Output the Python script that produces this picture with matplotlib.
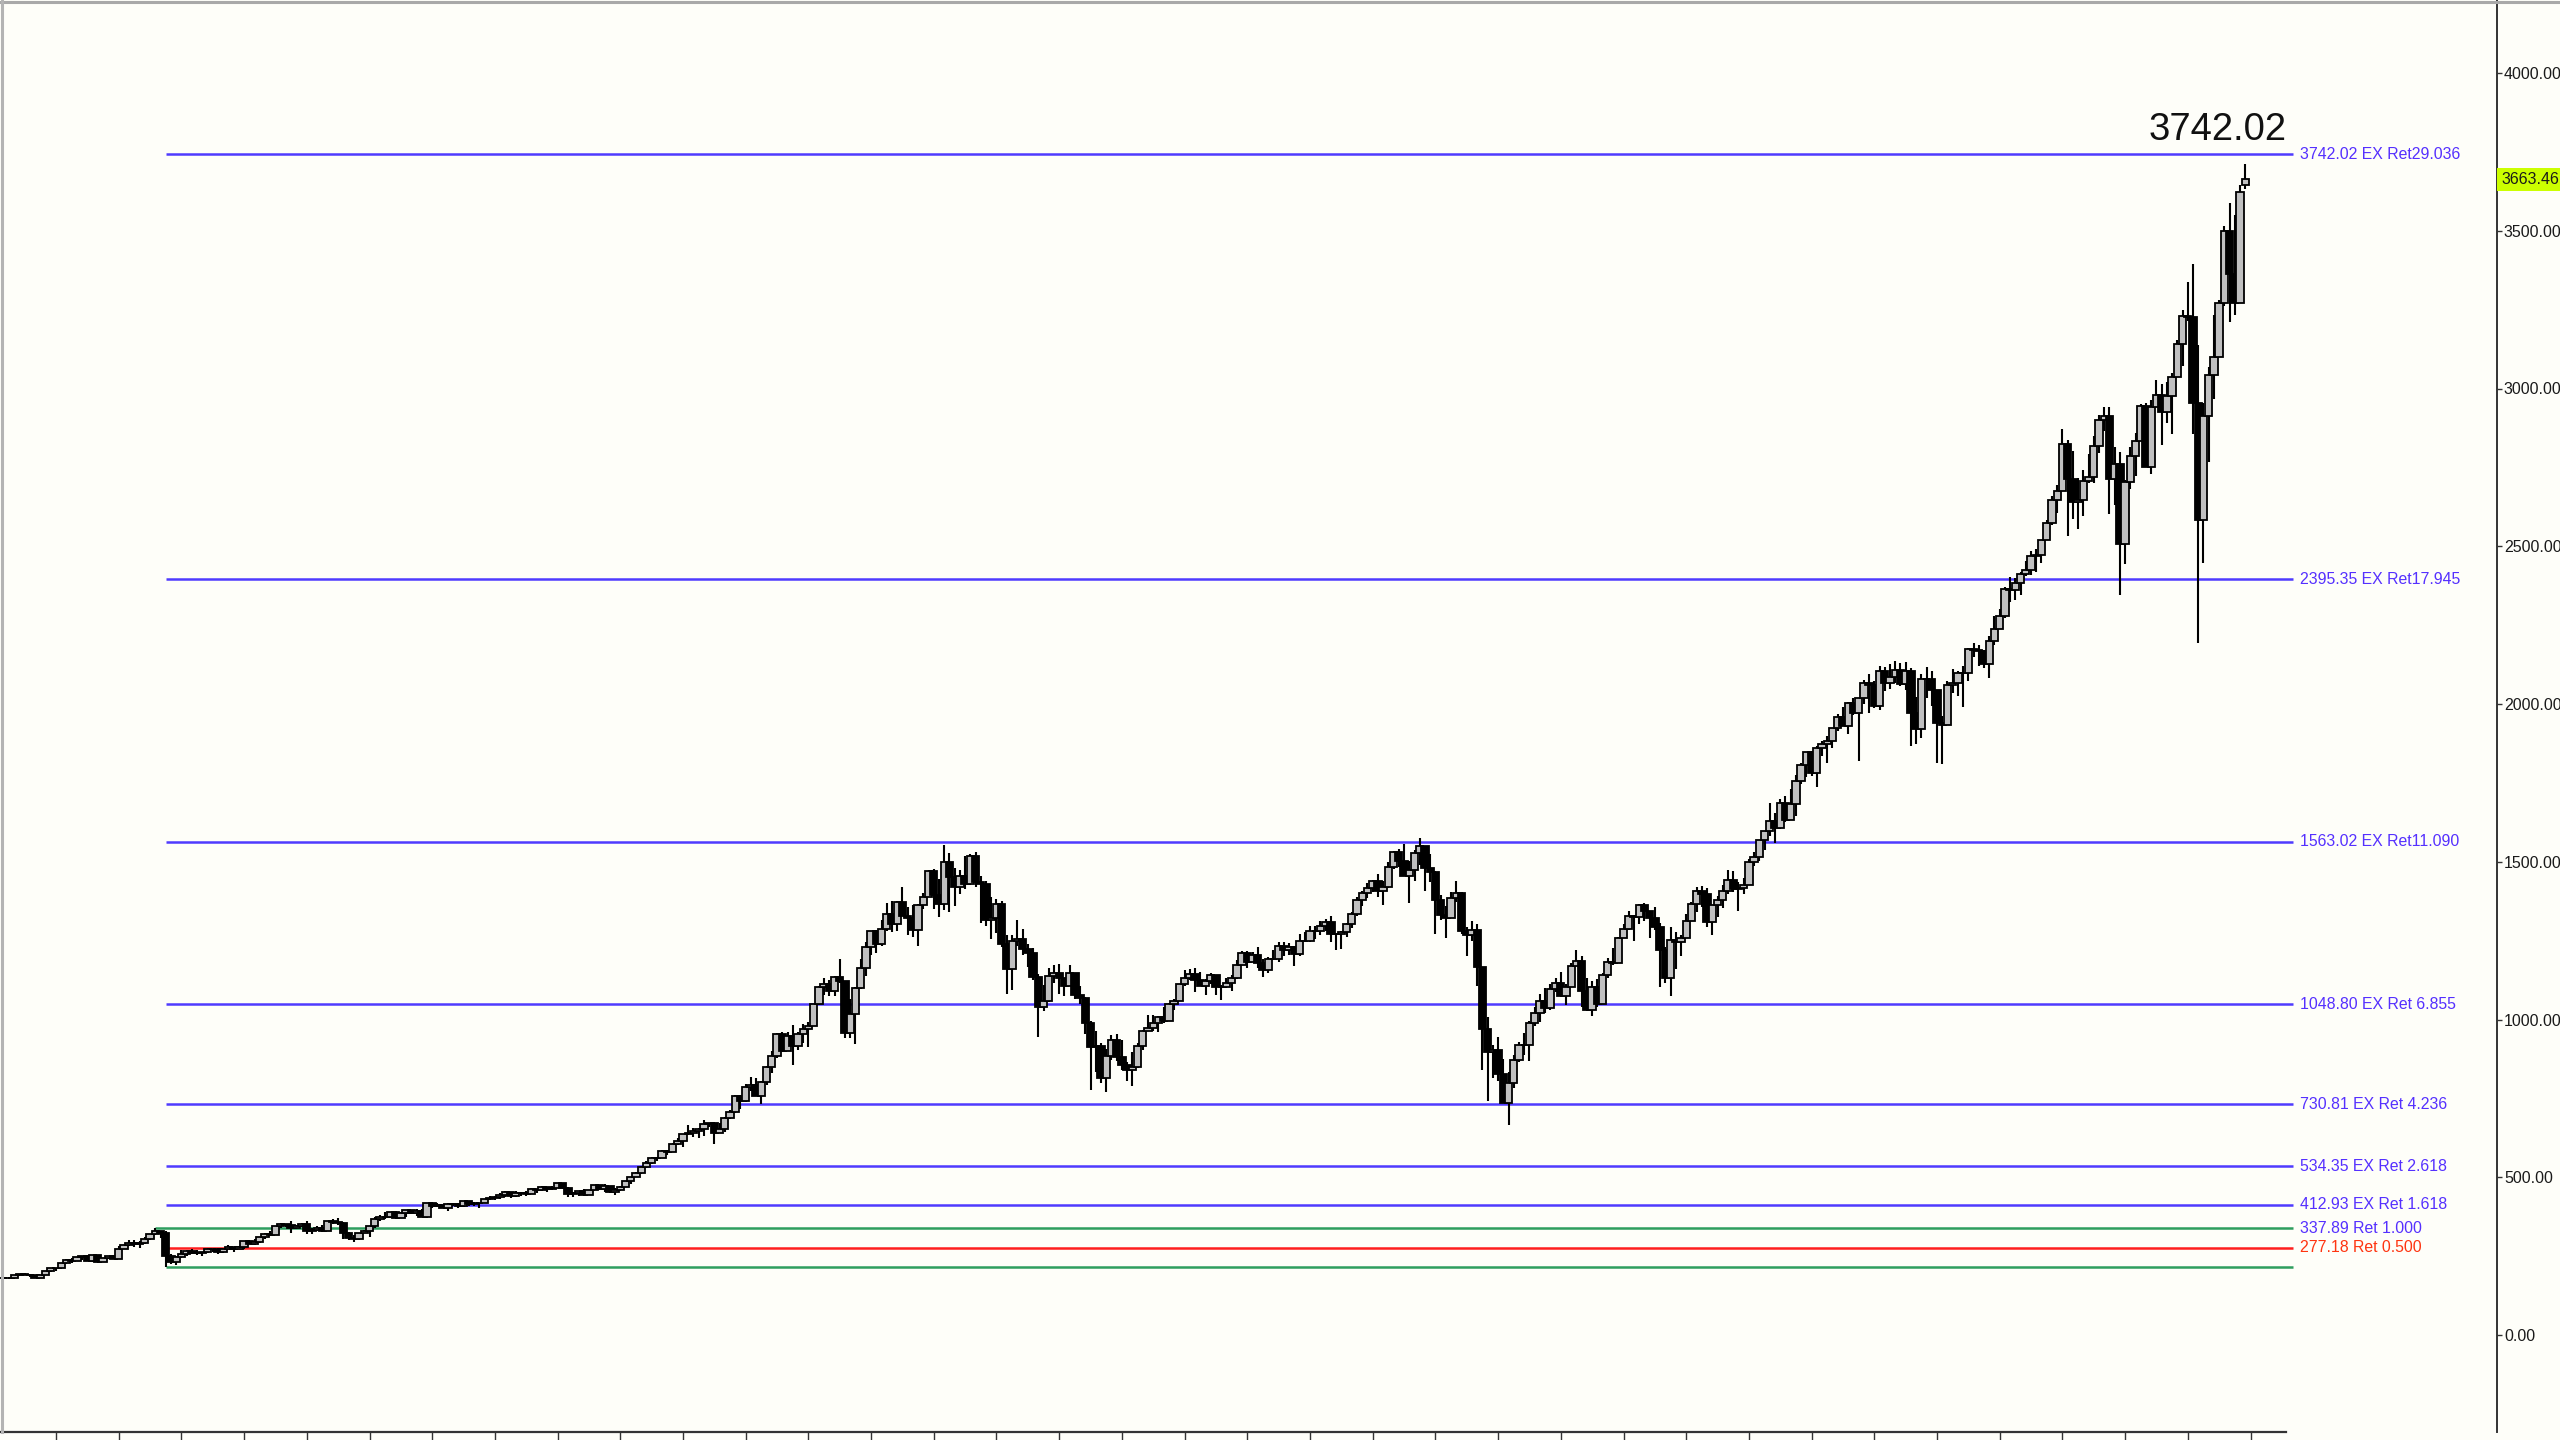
import matplotlib
matplotlib.use("Agg")
import matplotlib.pyplot as plt
from matplotlib.lines import Line2D
import numpy as np

# ---------------- DATA (S&P 500 monthly candles, Mar 1985 - Dec 2020) ----------------
first_open = 181.18
closes = [
    180.66, 179.83, 189.55, 191.85, 190.92, 188.63, 182.08, 189.82, 202.17, 211.28,  # 1985 Mar-Dec
    211.78, 226.92, 238.90, 235.52, 247.35, 250.84, 236.12, 252.93, 231.32, 243.98, 249.22, 242.17,
    274.08, 284.20, 291.70, 288.36, 290.10, 304.00, 318.66, 329.80, 321.83, 251.79, 230.30, 247.08,
    257.07, 267.82, 258.89, 261.33, 262.16, 273.50, 272.02, 261.52, 271.91, 278.97, 273.70, 277.72,
    297.47, 288.86, 294.87, 309.64, 320.52, 317.98, 346.08, 351.45, 349.15, 340.36, 345.99, 353.40,
    329.08, 331.89, 339.94, 330.80, 361.23, 358.02, 356.15, 322.56, 306.05, 304.00, 322.22, 330.22,
    343.93, 367.07, 375.22, 375.34, 389.83, 371.16, 387.81, 395.43, 387.86, 392.46, 375.22, 417.09,
    408.79, 412.70, 403.69, 414.95, 415.35, 408.14, 424.21, 414.03, 417.80, 418.68, 431.35, 435.71,
    438.78, 443.38, 451.67, 440.19, 450.19, 450.53, 448.13, 463.56, 458.93, 467.83, 461.79, 466.45,
    481.61, 467.14, 445.77, 450.91, 456.50, 444.27, 458.26, 475.49, 462.69, 472.35, 453.69, 459.27,
    470.42, 487.39, 500.71, 514.71, 533.40, 544.75, 562.06, 561.88, 584.41, 581.50, 605.37, 615.93,
    636.02, 640.43, 645.50, 654.17, 669.12, 670.63, 639.95, 651.99, 687.31, 705.27, 757.02, 740.74,
    786.16, 790.82, 757.12, 801.34, 848.28, 885.14, 954.29, 899.47, 947.28, 914.62, 955.40, 970.43,
    980.28, 1049.34, 1101.75, 1111.75, 1090.82, 1133.84, 1120.67, 957.28, 1017.01, 1098.67, 1163.63, 1229.23,
    1279.64, 1238.33, 1286.37, 1335.18, 1301.84, 1372.71, 1328.72, 1320.41, 1282.71, 1362.93, 1388.91, 1469.25,
    1394.46, 1366.42, 1498.58, 1452.43, 1420.60, 1454.60, 1430.83, 1517.68, 1436.51, 1429.40, 1314.95, 1320.28,
    1366.01, 1239.94, 1160.33, 1249.46, 1255.82, 1224.38, 1211.23, 1133.58, 1040.94, 1059.78, 1139.45, 1148.08,
    1130.20, 1106.73, 1147.39, 1076.92, 1067.14, 989.82, 911.62, 916.07, 815.28, 885.76, 936.31, 879.82,
    855.70, 841.15, 848.18, 916.92, 963.59, 974.50, 990.31, 1008.01, 995.97, 1050.71, 1058.20, 1111.92,
    1131.13, 1144.94, 1126.21, 1107.30, 1120.68, 1140.84, 1101.72, 1104.24, 1114.58, 1130.20, 1173.82, 1211.92,
    1181.27, 1203.60, 1180.59, 1156.85, 1191.50, 1191.33, 1234.18, 1220.33, 1228.81, 1207.01, 1249.48, 1248.29,
    1280.08, 1280.66, 1294.83, 1310.61, 1270.09, 1270.20, 1276.66, 1303.82, 1335.85, 1377.94, 1400.63, 1418.30,
    1438.24, 1406.82, 1420.86, 1482.37, 1530.62, 1503.35, 1455.27, 1473.99, 1526.75, 1549.38, 1481.14, 1468.36,
    1378.55, 1330.63, 1322.70, 1385.59, 1400.38, 1280.00, 1267.38, 1282.83, 1166.36, 968.75, 896.24, 903.25,
    825.88, 735.09, 797.87, 872.81, 919.14, 919.32, 987.48, 1020.62, 1057.08, 1036.19, 1095.63, 1115.10,
    1073.87, 1104.49, 1169.43, 1186.69, 1089.41, 1030.71, 1101.60, 1049.33, 1141.20, 1183.26, 1180.55, 1257.64,
    1286.12, 1327.22, 1325.83, 1363.61, 1345.20, 1320.64, 1292.28, 1218.89, 1131.42, 1253.30, 1246.96, 1257.60,
    1312.41, 1365.68, 1408.47, 1397.91, 1310.33, 1362.16, 1379.32, 1406.58, 1440.67, 1412.16, 1416.18, 1426.19,
    1498.11, 1514.68, 1569.19, 1597.57, 1630.74, 1606.28, 1685.73, 1632.97, 1681.55, 1756.54, 1805.81, 1848.36,
    1782.59, 1859.45, 1872.34, 1883.95, 1923.57, 1960.23, 1930.67, 2003.37, 1972.29, 2018.05, 2067.56, 2058.90,
    1994.99, 2104.50, 2067.89, 2085.51, 2107.39, 2063.11, 2103.84, 1972.18, 1920.03, 2079.36, 2080.41, 2043.94,
    1940.24, 1932.23, 2059.74, 2065.30, 2096.95, 2098.86, 2173.60, 2170.95, 2168.27, 2126.15, 2198.81, 2238.83,
    2278.87, 2363.64, 2362.72, 2384.20, 2411.80, 2423.41, 2470.30, 2471.65, 2519.36, 2575.26, 2647.58, 2673.61,
    2823.81, 2713.83, 2640.87, 2648.05, 2705.27, 2718.37, 2816.29, 2901.52, 2913.98, 2711.74, 2760.17, 2506.85,
    2704.10, 2784.49, 2834.40, 2945.83, 2752.06, 2941.76, 2980.38, 2926.46, 2976.74, 3037.56, 3140.98, 3230.78,
    3225.52, 2954.22, 2584.59, 2912.43, 3044.31, 3100.29, 3271.12, 3500.31, 3363.00, 3269.96, 3621.63, 3663.46,
]
highs = [
    183.89, 183.61, 189.98, 192.17, 197.45, 193.32, 189.04, 190.64, 203.69, 212.02,
    213.90, 227.94, 240.16, 244.79, 248.12, 251.79, 253.48, 254.38, 254.94, 244.05, 250.65, 254.87,
    280.96, 285.49, 301.95, 301.12, 296.60, 309.29, 320.29, 337.89, 330.50, 328.94, 255.75, 250.96,
    268.65, 268.47, 272.06, 270.14, 263.72, 275.57, 273.36, 274.34, 273.02, 284.93, 280.36, 283.06,
    298.67, 300.67, 302.99, 311.66, 323.18, 328.22, 347.02, 354.86, 352.89, 360.44, 347.07, 356.47,
    360.59, 337.74, 345.19, 347.30, 362.26, 368.95, 369.78, 357.63, 326.18, 315.83, 323.47, 331.75,
    345.87, 373.53, 380.09, 391.26, 390.74, 391.50, 390.50, 396.67, 396.15, 397.79, 399.14, 418.32,
    420.77, 417.05, 413.30, 418.55, 419.78, 417.95, 425.09, 425.00, 422.62, 419.02, 432.16, 441.28,
    442.00, 449.56, 456.86, 452.13, 455.63, 453.84, 456.33, 464.36, 463.62, 470.92, 469.49, 471.29,
    482.85, 482.23, 470.14, 453.11, 458.00, 462.95, 459.00, 476.71, 476.07, 478.16, 473.08, 465.29,
    472.23, 489.00, 502.24, 515.47, 536.19, 551.07, 563.84, 564.73, 586.86, 587.85, 608.75, 622.88,
    636.26, 664.23, 656.97, 656.43, 681.10, 673.31, 675.88, 670.68, 690.88, 714.10, 762.12, 761.75,
    794.67, 817.68, 814.90, 804.13, 851.87, 898.70, 957.73, 961.63, 960.46, 983.12, 960.16, 986.25,
    992.65, 1050.02, 1105.65, 1130.52, 1123.95, 1138.49, 1190.58, 1121.02, 1066.09, 1102.58, 1192.97, 1244.93,
    1280.41, 1283.37, 1316.19, 1368.17, 1375.98, 1375.22, 1420.33, 1357.99, 1361.69, 1364.78, 1400.04, 1473.10,
    1478.00, 1444.55, 1552.87, 1527.19, 1481.51, 1474.64, 1517.32, 1525.21, 1530.09, 1454.82, 1438.46, 1389.06,
    1383.37, 1376.38, 1267.42, 1269.30, 1315.93, 1286.62, 1239.78, 1226.27, 1143.63, 1110.61, 1163.38, 1173.60,
    1176.97, 1130.20, 1173.94, 1147.84, 1106.59, 1070.67, 994.46, 965.00, 924.02, 907.44, 951.57, 954.28,
    935.05, 864.64, 895.90, 924.24, 965.38, 1015.33, 1015.41, 1011.01, 1040.29, 1053.79, 1063.65, 1112.56,
    1155.38, 1158.98, 1163.23, 1150.57, 1127.74, 1146.34, 1140.84, 1108.96, 1131.54, 1142.05, 1188.46, 1217.33,
    1217.80, 1212.44, 1229.11, 1191.88, 1199.56, 1219.59, 1245.15, 1245.86, 1243.13, 1233.34, 1270.64, 1275.80,
    1294.90, 1297.57, 1310.88, 1318.16, 1326.70, 1274.93, 1280.42, 1306.74, 1340.28, 1389.45, 1407.89, 1431.81,
    1441.61, 1461.57, 1438.89, 1498.02, 1535.56, 1540.56, 1555.90, 1503.89, 1538.74, 1576.09, 1545.79, 1523.57,
    1471.77, 1396.02, 1359.68, 1404.57, 1440.24, 1404.05, 1292.17, 1313.15, 1303.04, 1167.03, 1007.51, 918.85,
    943.85, 875.01, 832.98, 888.70, 930.17, 956.23, 996.68, 1039.47, 1080.15, 1101.36, 1113.69, 1130.38,
    1150.45, 1112.42, 1180.16, 1219.80, 1200.26, 1131.23, 1120.95, 1129.24, 1148.90, 1196.14, 1227.08, 1262.60,
    1302.67, 1344.07, 1332.28, 1366.61, 1370.58, 1345.20, 1356.48, 1307.38, 1229.29, 1292.66, 1277.55, 1269.37,
    1333.47, 1371.94, 1419.15, 1422.38, 1415.32, 1363.46, 1391.74, 1426.68, 1474.51, 1470.96, 1434.27, 1448.00,
    1509.94, 1530.94, 1570.28, 1597.57, 1687.18, 1654.19, 1698.78, 1709.67, 1729.86, 1775.22, 1813.55, 1849.44,
    1850.84, 1867.92, 1883.97, 1897.28, 1924.03, 1968.17, 1991.39, 2005.04, 2019.26, 2018.19, 2075.76, 2093.55,
    2072.36, 2119.59, 2117.52, 2125.92, 2134.72, 2129.87, 2132.82, 2112.66, 2020.86, 2094.32, 2116.48, 2104.27,
    2038.20, 1962.96, 2072.21, 2111.05, 2103.48, 2120.55, 2177.09, 2193.81, 2187.87, 2169.60, 2214.10, 2277.53,
    2300.99, 2371.54, 2400.98, 2398.16, 2418.71, 2453.82, 2484.04, 2490.87, 2519.44, 2582.98, 2657.74, 2694.97,
    2872.87, 2835.96, 2801.90, 2717.49, 2742.10, 2791.47, 2848.03, 2916.50, 2940.91, 2939.86, 2815.15, 2800.18,
    2708.95, 2813.49, 2860.31, 2949.52, 2954.13, 2964.15, 3027.98, 3013.59, 3021.99, 3050.10, 3154.26, 3247.93,
    3337.77, 3393.52, 3136.72, 2954.86, 3068.67, 3233.13, 3279.99, 3514.77, 3588.11, 3549.85, 3645.99, 3712.39,
]
lows = [
    177.86, 178.21, 178.37, 185.79, 188.78, 184.06, 179.45, 181.23, 189.07, 200.46,
    201.87, 210.62, 224.34, 228.32, 233.51, 239.11, 233.68, 232.59, 228.74, 230.55, 239.36, 240.52,
    242.17, 273.38, 282.82, 278.16, 277.01, 288.94, 301.07, 316.99, 308.56, 216.46, 225.75, 221.24,
    243.08, 251.20, 256.13, 254.55, 250.05, 260.58, 262.33, 256.02, 258.36, 271.13, 263.88, 272.67,
    273.81, 287.01, 285.40, 291.95, 305.55, 314.40, 316.98, 338.65, 341.44, 323.97, 336.52, 342.00,
    318.71, 320.54, 329.58, 326.78, 329.12, 351.25, 350.04, 305.73, 300.00, 294.51, 301.85, 321.81,
    309.35, 340.17, 362.12, 368.57, 370.06, 366.45, 370.59, 374.09, 383.59, 377.80, 373.73, 371.36,
    403.59, 405.17, 400.96, 394.50, 408.80, 401.29, 404.25, 409.10, 408.43, 402.66, 417.42, 427.90,
    426.95, 429.71, 438.00, 433.54, 436.86, 441.93, 441.39, 447.00, 450.98, 456.83, 454.38, 460.87,
    464.55, 464.26, 436.16, 435.86, 441.22, 441.07, 443.20, 456.52, 460.34, 454.46, 449.05, 443.93,
    457.23, 468.16, 479.97, 499.61, 511.35, 530.37, 542.51, 552.41, 561.00, 571.63, 579.40, 602.00,
    597.29, 633.45, 627.63, 624.16, 630.07, 658.64, 605.88, 639.49, 643.97, 684.25, 703.77, 716.69,
    737.01, 773.43, 756.13, 733.54, 793.21, 829.75, 879.10, 897.66, 899.47, 855.27, 904.24, 924.92,
    912.83, 979.55, 1047.31, 1076.70, 1074.39, 1074.64, 1114.30, 939.98, 939.98, 923.32, 1096.26, 1136.89,
    1203.41, 1211.87, 1234.00, 1282.07, 1277.59, 1281.41, 1328.46, 1268.37, 1262.91, 1233.70, 1350.33, 1387.38,
    1350.14, 1325.07, 1346.62, 1339.40, 1361.09, 1398.11, 1413.89, 1425.43, 1419.44, 1305.79, 1294.90, 1254.07,
    1274.62, 1228.42, 1081.19, 1091.99, 1232.00, 1203.03, 1165.54, 1124.87, 944.75, 1026.76, 1054.31, 1114.53,
    1081.66, 1074.36, 1106.73, 1063.46, 1048.96, 952.92, 775.68, 833.44, 800.20, 768.63, 872.37, 869.45,
    840.34, 806.29, 788.90, 847.85, 902.83, 963.59, 962.10, 960.84, 990.36, 995.97, 1031.20, 1058.20,
    1105.08, 1124.44, 1087.16, 1107.23, 1076.32, 1113.32, 1078.78, 1060.72, 1101.29, 1090.19, 1127.60, 1173.76,
    1163.75, 1180.95, 1163.69, 1136.15, 1146.18, 1188.30, 1183.55, 1201.07, 1205.35, 1168.20, 1201.07, 1246.59,
    1245.74, 1253.61, 1268.42, 1280.74, 1245.34, 1219.29, 1224.54, 1261.30, 1290.93, 1327.10, 1360.98, 1385.93,
    1403.97, 1389.42, 1363.98, 1416.37, 1476.70, 1484.18, 1454.25, 1370.60, 1439.29, 1489.56, 1406.10, 1435.65,
    1270.05, 1316.75, 1256.98, 1324.35, 1373.07, 1272.00, 1200.44, 1247.45, 1106.42, 839.80, 741.02, 815.69,
    804.30, 734.52, 666.79, 783.32, 866.10, 888.86, 869.32, 978.51, 991.97, 1020.18, 1029.38, 1085.89,
    1071.59, 1044.50, 1105.24, 1170.69, 1040.78, 1028.33, 1010.91, 1039.70, 1048.18, 1131.87, 1173.00, 1186.60,
    1257.62, 1282.86, 1249.05, 1302.62, 1311.80, 1258.07, 1282.86, 1101.54, 1114.22, 1074.77, 1158.66, 1202.37,
    1258.86, 1310.91, 1340.03, 1357.38, 1291.98, 1266.74, 1325.41, 1354.65, 1396.56, 1403.28, 1343.35, 1398.11,
    1426.19, 1485.01, 1501.48, 1536.03, 1581.28, 1560.33, 1604.57, 1627.47, 1633.41, 1646.47, 1746.20, 1767.99,
    1770.45, 1737.92, 1834.44, 1814.36, 1859.79, 1915.98, 1930.67, 1904.78, 1964.04, 1820.66, 2001.01, 1972.56,
    1988.12, 1980.90, 2039.69, 2048.38, 2067.93, 2056.32, 2044.02, 1867.01, 1871.91, 1893.70, 2019.39, 1993.26,
    1812.29, 1810.10, 1937.09, 2033.80, 2025.91, 1991.68, 2074.02, 2147.58, 2119.12, 2114.72, 2083.79, 2187.44,
    2245.13, 2271.65, 2322.25, 2328.95, 2344.51, 2405.70, 2407.70, 2417.35, 2446.55, 2520.40, 2566.33, 2605.52,
    2682.36, 2532.69, 2585.89, 2553.80, 2594.62, 2698.95, 2698.95, 2796.34, 2864.12, 2603.54, 2631.09, 2346.58,
    2443.96, 2681.83, 2722.27, 2848.63, 2750.52, 2728.81, 2952.22, 2822.12, 2891.85, 2855.94, 3050.72, 3070.33,
    3214.64, 2855.84, 2191.86, 2447.49, 2766.64, 2965.66, 3115.01, 3260.62, 3209.45, 3233.94, 3279.74, 3633.40,
]
last_open = 3645.87          # Dec 2020 opened with a gap above Nov close
last_price = 3663.46

level_prices = [3742.02, 2395.35, 1563.02, 1048.80, 730.81, 534.35, 412.93, 337.89, 277.18, 216.46]
level_labels = ["3742.02 EX Ret29.036", "2395.35 EX Ret17.945", "1563.02 EX Ret11.090",
                "1048.80 EX Ret 6.855", "730.81 EX Ret 4.236", "534.35 EX Ret 2.618",
                "412.93 EX Ret 1.618", "337.89 Ret 1.000", "277.18 Ret 0.500", ""]
price_ticks = [0, 500, 1000, 1500, 2000, 2500, 3000, 3500, 4000]
big_label = "3742.02"

# ---------------- STYLE ----------------
BLUE_LINE = "#4F3BFF"
BLUE_TEXT = "#5530FF"
GREEN = "#2E9E5E"
RED = "#FF1E1E"
RED_TEXT = "#FF3410"
level_line_colors = [BLUE_LINE] * 7 + [GREEN, RED, GREEN]
level_text_colors = [BLUE_TEXT] * 8 + [RED_TEXT, BLUE_TEXT]
BG = "#FEFEF9"

W, H = 2560, 1440
PX_PER_BAR = 5.225
X0_PX = 3.75            # pixel of first candle
Y_SLOPE = 0.3155        # px per price unit
Y0_PX = 1335.0          # pixel (from top) of price 0
AX_RIGHT_PX = 2497
AX_BOTTOM_PX = 1432
PLOT_RIGHT_PX = 2286

def px_to_idx(px):
    return (px - X0_PX) / PX_PER_BAR

def py_to_price(py):
    return (Y0_PX - py) / Y_SLOPE

n = len(closes)
assert len(highs) == n and len(lows) == n
opens = np.array([first_open] + closes[:-1], dtype=float)
opens[-1] = last_open
closes_a = np.array(closes, dtype=float)
highs_a = np.array(highs, dtype=float)
lows_a = np.array(lows, dtype=float)
x = np.arange(n)

plt.rcParams["font.family"] = ["Liberation Sans", "DejaVu Sans"]

fig = plt.figure(figsize=(W / 100, H / 100), dpi=100, facecolor=BG)
ax = fig.add_axes([0, (H - AX_BOTTOM_PX) / H, AX_RIGHT_PX / W, AX_BOTTOM_PX / H])
ax.set_facecolor(BG)
ax.set_xlim(px_to_idx(0), px_to_idx(AX_RIGHT_PX))
ax.set_ylim(py_to_price(AX_BOTTOM_PX), py_to_price(0))

# level lines
oct87 = (1987 - 1985) * 12 + 9 - 2
aug87 = oct87 - 2
line_end = px_to_idx(2293)
for i, (p, lab, lc, tc) in enumerate(zip(level_prices, level_labels, level_line_colors, level_text_colors)):
    xs = aug87 if i == 7 else oct87
    ax.plot([xs, line_end], [p, p], color=lc, lw=1.8, zorder=2, solid_capstyle="butt")
    if lab:
        ax.text(px_to_idx(2300), p, lab, color=tc, fontsize=11.4, va="center", ha="left", zorder=5)

# candles
ax.vlines(x, lows_a, highs_a, color="black", lw=1.5, zorder=3)
up = closes_a >= opens
body_colors = np.where(up, "#C0C0C0", "#000000")
heights = np.abs(closes_a - opens)
ax.bar(x, heights, bottom=np.minimum(opens, closes_a), width=1.4, color=body_colors,
       edgecolor="black", linewidth=1.3, zorder=4)

# big label
ax.text(px_to_idx(2287), py_to_price(140), big_label, ha="right", va="baseline",
        fontsize=27.5, color="#111111", zorder=6)

# axes styling
for s in ["left", "top"]:
    ax.spines[s].set_visible(False)
ax.spines["right"].set_color("#333333")
ax.spines["right"].set_linewidth(1.4)
ax.spines["bottom"].set_color("#333333")
ax.spines["bottom"].set_linewidth(1.6)
ax.spines["bottom"].set_bounds(px_to_idx(0), px_to_idx(PLOT_RIGHT_PX))

jan_ticks = [10 + 12 * k for k in range(0, 40) if 10 + 12 * k <= px_to_idx(PLOT_RIGHT_PX)]
ax.set_xticks(jan_ticks)
ax.set_xticklabels([])
ax.tick_params(axis="x", direction="out", length=6, width=1.0, color="#333333")

ax.yaxis.tick_right()
ax.set_yticks(price_ticks)
ax.set_yticklabels([f"{v:.2f}" for v in price_ticks])
ax.tick_params(axis="y", direction="out", length=3.5, width=1.0, color="#333333",
               labelsize=11.5, pad=1.5, labelcolor="#1a1a1a")

# current price tag
ax.text(1.0 + 4 / AX_RIGHT_PX, last_price, f"{last_price:.2f}", transform=ax.get_yaxis_transform(),
        ha="left", va="center", fontsize=11.5, color="#1a1a1a", clip_on=False,
        bbox=dict(boxstyle="square,pad=0.25", fc="#CCFF00", ec="none"), zorder=7)

# window borders
fig.add_artist(Line2D([0, 1], [1 - 1.5 / H, 1 - 1.5 / H], transform=fig.transFigure,
                      color="#A9A9A9", lw=2.2))
fig.add_artist(Line2D([1.5 / W, 1.5 / W], [(H - AX_BOTTOM_PX) / H, 1], transform=fig.transFigure,
                      color="#B4B4B4", lw=2.2))

fig.savefig("out.png", dpi=100, facecolor=BG)
